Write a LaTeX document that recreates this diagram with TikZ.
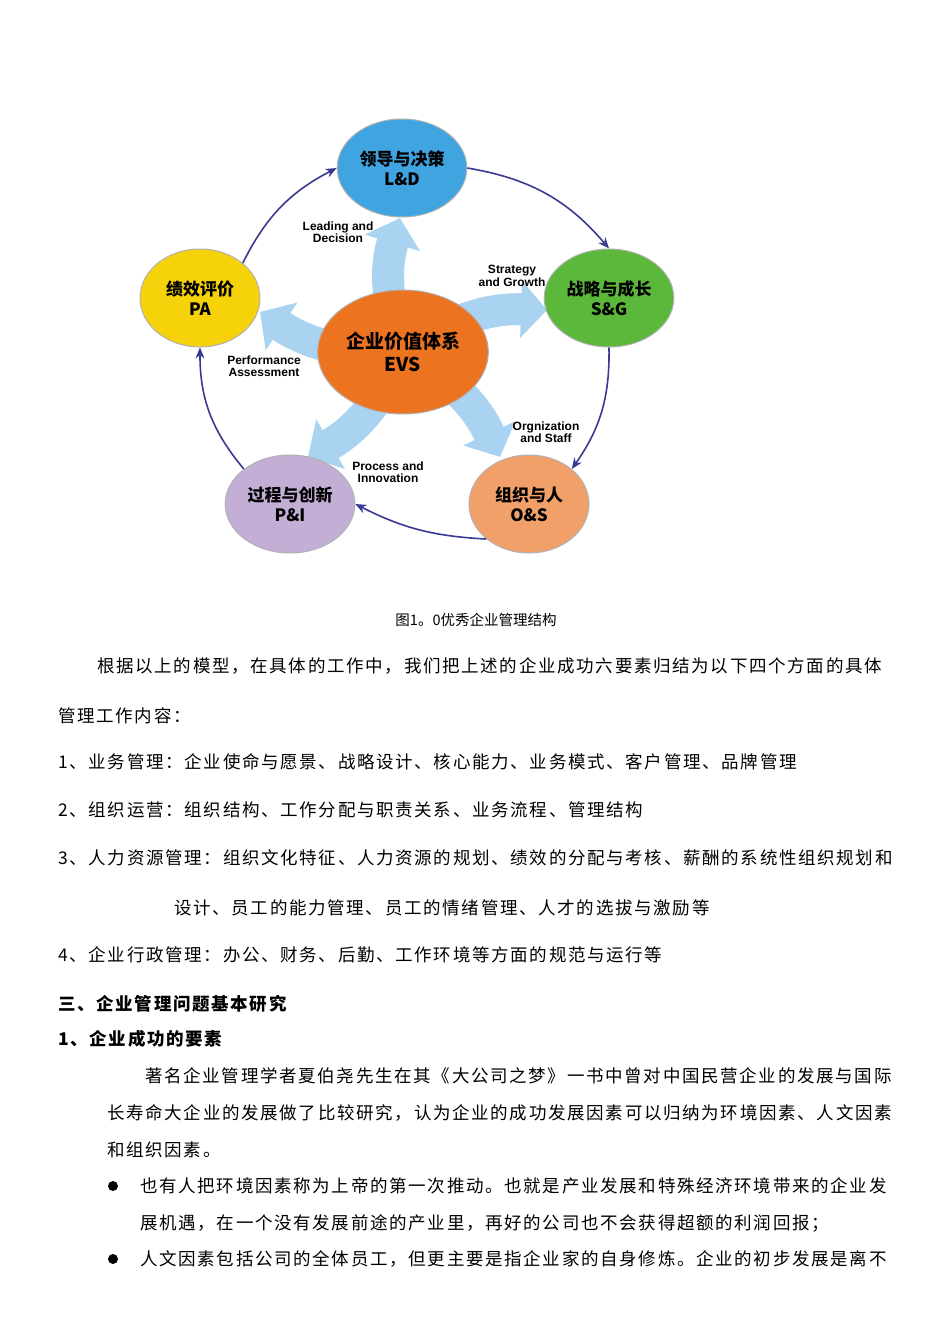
\documentclass[tikz,border=0pt]{standalone}
\usepackage{fontspec}
\setmainfont{Liberation Serif}
\newfontfamily\cjk{Noto Sans CJK SC}
\newfontfamily\cjksp[LetterSpace=9.6]{Noto Sans CJK SC}
\newfontfamily\lab{Liberation Sans}
\usetikzlibrary{arrows.meta,shapes.geometric}
\definecolor{navy}{HTML}{3A3A92}
\definecolor{ldc}{HTML}{3FA4DF}
\definecolor{sgc}{HTML}{5BB83A}
\definecolor{osc}{HTML}{F2A06A}
\definecolor{pic}{HTML}{C3AED6}
\definecolor{pac}{HTML}{F5D20A}
\definecolor{evc}{HTML}{EC7421}
\definecolor{star}{HTML}{A9D3F0}
\tikzset{
 circ/.style={ellipse,draw=gray!60,line width=1pt,minimum width=120pt,minimum height=98pt,align=center,font=\cjk\fontsize{17}{20}\selectfont\bfseries},
 eng/.style={font=\lab\bfseries\fontsize{12}{12.5}\selectfont,align=center},
 ring/.style={navy,line width=1.6pt,-{Stealth[length=11pt,width=9pt]}},
 spoke/.style={star,line width=32pt,-{Triangle[length=26pt,width=56pt]}},
 body/.style={anchor=west,inner sep=0pt,font=\cjksp\fontsize{17.5}{20}\selectfont},
 bbody/.style={body,font=\cjksp\fontsize{17.5}{20}\selectfont\bfseries}
}
\begin{document}
\begin{tikzpicture}[x=1pt,y=-1pt]
\useasboundingbox[fill=white] (0,0) rectangle (950,1344);
% spokes
\coordinate (c) at (403,352);
\coordinate (tld) at (400,218);
\coordinate (tsg) at (547,310);
\coordinate (tos) at (500,457);
\coordinate (tpi) at (308,457);
\coordinate (tpa) at (260,312);
\draw[spoke] (c) to[bend left=18] (tld);
\draw[spoke] (c) to[bend left=18] (tsg);
\draw[spoke] (c) to[bend left=18] (tos);
\draw[spoke] (c) to[bend left=18] (tpi);
\draw[spoke] (c) to[bend left=18] (tpa);
% nodes
\node[circ,fill=ldc] (ld) at (402,168) {领导与决策\\L\&D};
\node[circ,fill=sgc] (sg) at (609,298) {战略与成长\\S\&G};
\node[circ,fill=osc] (os) at (529,504) {组织与人\\O\&S};
\node[circ,fill=pic] (pi) at (290,504) {过程与创新\\P\&I};
\node[circ,fill=pac] (pa) at (200,298) {绩效评价\\PA};
\node[circ,fill=evc,minimum width=144pt,minimum height=124pt,font=\cjk\fontsize{19}{23}\selectfont\bfseries] (ev) at (403,352) {企业价值体系\\EVS};
% ring
\draw[ring] (ld.east) to[bend left=20] (sg.north);
\draw[ring] (sg.south) to[bend left=18] (os.north east);
\draw[ring] (os.south west) to[bend left=12] (pi.east);
\draw[ring] (pi.north west) to[bend left=20] (pa.south);
\draw[ring] (pa.north east) to[bend left=18] (ld.west);
% labels
\node[eng] (l1) at (338,232) {Leading and\\Decision};
\node[eng] (l2) at (512,276) {Strategy\\and Growth};
\node[eng] (l3) at (546,432) {Orgnization\\and Staff};
\node[eng] (l4) at (388,472) {Process and\\Innovation};
\node[eng] (l5) at (264,366) {Performance\\Assessment};
% text
\node[font=\cjk\fontsize{14.5}{16}\selectfont] (cap) at (476,620) {图1。0优秀企业管理结构};
\node[body] (t1) at (97,666) {根据以上的模型，在具体的工作中，我们把上述的企业成功六要素归结为以下四个方面的具体};
\node[body] (t2) at (58,716) {管理工作内容：};
\node[body] (t3) at (58,762) {1、业务管理：企业使命与愿景、战略设计、核心能力、业务模式、客户管理、品牌管理};
\node[body] (t4) at (58,810) {2、组织运营：组织结构、工作分配与职责关系、业务流程、管理结构};
\node[body] (t5) at (58,858) {3、人力资源管理：组织文化特征、人力资源的规划、绩效的分配与考核、薪酬的系统性组织规划和};
\node[body] (t6) at (174,908) {设计、员工的能力管理、员工的情绪管理、人才的选拔与激励等};
\node[body] (t7) at (58,955) {4、企业行政管理：办公、财务、后勤、工作环境等方面的规范与运行等};
\node[bbody] (t8) at (58,1004) {三、企业管理问题基本研究};
\node[bbody] (t9) at (58,1039) {1、企业成功的要素};
\node[body] (t10) at (145,1076) {著名企业管理学者夏伯尧先生在其《大公司之梦》一书中曾对中国民营企业的发展与国际};
\node[body] (t11) at (107,1113) {长寿命大企业的发展做了比较研究，认为企业的成功发展因素可以归纳为环境因素、人文因素};
\node[body] (t12) at (107,1150) {和组织因素。};
\fill (113,1186) circle (5pt);
\node[body] (t13) at (140,1186) {也有人把环境因素称为上帝的第一次推动。也就是产业发展和特殊经济环境带来的企业发};
\node[body] (t14) at (140,1223) {展机遇，在一个没有发展前途的产业里，再好的公司也不会获得超额的利润回报；};
\fill (113,1259) circle (5pt);
\node[body] (t15) at (140,1259) {人文因素包括公司的全体员工，但更主要是指企业家的自身修炼。企业的初步发展是离不};
\end{tikzpicture}
\end{document}
